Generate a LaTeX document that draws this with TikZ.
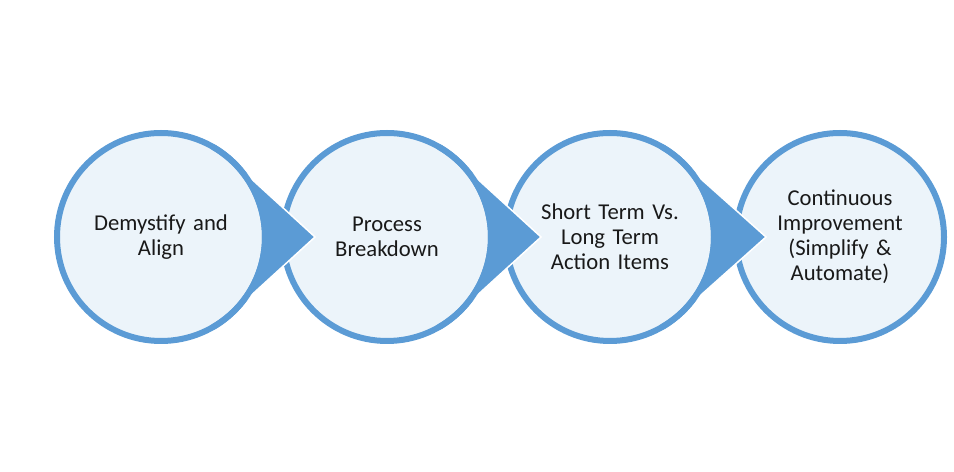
\documentclass[tikz,border=0pt]{standalone}
\usepackage{fontspec}
\setmainfont{Carlito}
\usepackage{tikz}
\usetikzlibrary{calc}
\definecolor{ringblue}{RGB}{91, 155, 213}
\definecolor{ringfill}{RGB}{236, 244, 250}

\begin{document}
\begin{tikzpicture}[
  stage/.style={circle, draw=ringblue, fill=ringfill, line width=0.12cm, minimum size=4.16cm, inner sep=0pt, text width=3.5cm, align=center, font=\fontsize{12.9}{14.2}\selectfont, text=black!90},
  pointer/.style={fill=ringblue, draw=white, line width=0.03cm, line join=miter},
  rim/.style={draw=ringblue, line width=0.12cm}
]
  \useasboundingbox (0,0) rectangle (19.08,9.44);

  % the four stages
  \node[stage] (demystify) at (3.22, 4.70) {Demystify and\\Align};
  \node[stage] (breakdown) at (7.74, 4.70) {Process\\Breakdown};
  \node[stage] (actions) at (12.20, 4.70) {Short Term Vs.\\Long Term\\Action Items};
  \node[stage] (improve) at (16.80, 4.70) {Continuous\\Improvement\\(Simplify \&\\Automate)};

  % pointers from one stage into the next
  \coordinate (tipA) at ($(demystify.center)+(3.08,0)$);
  \coordinate (tipB) at ($(breakdown.center)+(3.08,0)$);
  \coordinate (tipC) at ($(actions.center)+(3.12,0)$);
  \path[pointer] (demystify.center) ++(45:2.08) -- (tipA) -- ($(demystify.center)+(-45:2.08)$) arc[start angle=-45, end angle=45, radius=2.08cm] -- cycle;
  \path[pointer] (breakdown.center) ++(45:2.08) -- (tipB) -- ($(breakdown.center)+(-45:2.08)$) arc[start angle=-45, end angle=45, radius=2.08cm] -- cycle;
  \path[pointer] (actions.center) ++(45:2.08) -- (tipC) -- ($(actions.center)+(-45:2.08)$) arc[start angle=-45, end angle=45, radius=2.08cm] -- cycle;

  % close the rims again where the pointers leave them
  \draw[rim] (demystify.center) ++(60:2.08) arc[start angle=60, end angle=-60, radius=2.08cm];
  \draw[rim] (breakdown.center) ++(60:2.08) arc[start angle=60, end angle=-60, radius=2.08cm];
  \draw[rim] (actions.center) ++(60:2.08) arc[start angle=60, end angle=-60, radius=2.08cm];
\end{tikzpicture}
\end{document}
